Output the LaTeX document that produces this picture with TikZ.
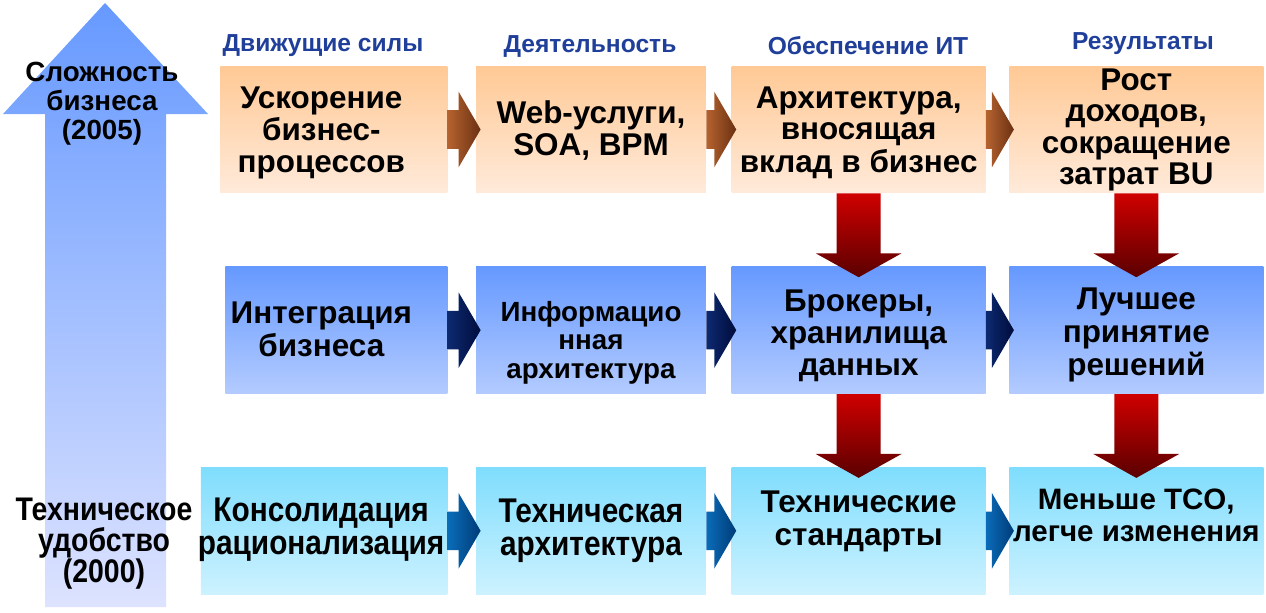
\documentclass[tikz,border=0pt]{standalone}
\usepackage{fontspec}
\setmainfont{Liberation Sans}
\newfontfamily\narrowfont[FakeStretch=0.87]{Liberation Sans}
\usetikzlibrary{positioning,calc}

\definecolor{headblue}{HTML}{1F3F9A}
\definecolor{orangetop}{HTML}{FFC995}
\definecolor{orangebot}{HTML}{FFEADA}
\definecolor{bluetop}{HTML}{6699FF}
\definecolor{bluebot}{HTML}{B3CBFF}
\definecolor{cyantop}{HTML}{7FDDFD}
\definecolor{cyanbot}{HTML}{CDF2FF}
\definecolor{liftbot}{HTML}{DDE3FF}
\definecolor{redtop}{HTML}{D00000}
\definecolor{redbot}{HTML}{5A0000}
\definecolor{browntop}{HTML}{B5632F}
\definecolor{brownbot}{HTML}{6B3012}
\definecolor{navytop}{HTML}{0D2A70}
\definecolor{navybot}{HTML}{000C3C}
\definecolor{steeltop}{HTML}{0A6CB8}
\definecolor{steelbot}{HTML}{003B78}

% lines of a box, moved right by #1 and up by #2
\newcommand{\boxtext}[3]{\raisebox{#2}[\height][\depth]{\hspace*{#1}\begin{tabular}{@{}c@{}}#3\end{tabular}\hspace*{-#1}}}

% block arrow from one box to the next one on the right
\newcommand{\stepright}[3]{%
  \shade[#3] let \p1=(#1.east), \p2=(#2.west), \p3=($(\p1)!0.5!(\p2)$) in
    (\x1,\y3+11pt) -- (\x2-9.7pt,\y3+11pt) -- (\x2-9.7pt,\y3+21.5pt) -- (\x2+2.8pt,\y3)
    -- (\x2-9.7pt,\y3-21.5pt) -- (\x2-9.7pt,\y3-11pt) -- (\x1,\y3-11pt) -- cycle;}

% block arrow from one box down to the box below
\newcommand{\stepdown}[3]{%
  \shade[#3] let \p1=(#1.south), \p2=(#2.north) in
    (\x1-12.5pt,\y1) -- (\x1-12.5pt,\y2+7.4pt) -- (\x1-24.4pt,\y2+7.4pt) -- (\x1,\y2-6.2pt)
    -- (\x1+24.4pt,\y2+7.4pt) -- (\x1+12.5pt,\y2+7.4pt) -- (\x1+12.5pt,\y1) -- cycle;}

\begin{document}
\begin{tikzpicture}[x=0.02cm, y=-0.02cm, node distance=1.46cm and 0.5cm]
    \tikzstyle{stage} = [rectangle, inner sep=0pt, minimum height=2.54cm, font=\fontsize{17.9}{17.9}\selectfont\bfseries]
    \tikzstyle{drive} = [stage, top color=orangetop, bottom color=orangebot]
    \tikzstyle{integ} = [stage, top color=bluetop, bottom color=bluebot, font=\fontsize{17.9}{18.4}\selectfont\bfseries]
    \tikzstyle{tech} = [stage, top color=cyantop, bottom color=cyanbot]
    \tikzstyle{narrow} = [font=\fontsize{19.5}{18.6}\narrowfont\bfseries]
    \tikzstyle{head} = [font=\fontsize{14}{14}\selectfont\bfseries, text=headblue]
    \tikzstyle{warm} = [left color=browntop, right color=brownbot]
    \tikzstyle{navy} = [left color=navytop, right color=navybot]
    \tikzstyle{steel} = [left color=steeltop, right color=steelbot]
    \tikzstyle{drop} = [top color=redtop, bottom color=redbot]

    \useasboundingbox (0,0) rectangle (1266,612);

    % growth arrow on the left
    \shade[top color=bluetop, bottom color=liftbot] (105,3) -- (208,114) -- (166,114) -- (166,607)
        -- (45,607) -- (45,114) -- (3,114) -- cycle;
    \node (complex) [align=center, font=\fontsize{15.8}{16.4}\selectfont\bfseries] at (102,104) {Сложность\\бизнеса\\(2005)};
    \node (simple) [align=center, font=\fontsize{18.6}{17.6}\narrowfont\bfseries] at (104,544) {Техническое\\удобство\\(2000)};

    % column headers
    \node (h1) [head] at (323,46) {Движущие силы};
    \node (h2) [head] at (590,46) {Деятельность};
    \node (h3) [head] at (868,46) {Обеспечение ИТ};
    \node (h4) [head] at (1143,44) {Результаты};

    % boxes
    \node (a2) [drive, minimum width=4.6cm] at (591,129.5) {\boxtext{0pt}{-0.07cm}{Web-услуги,\\SOA, BPM}};
    \node (a1) [drive, minimum width=4.54cm, left=0.56cm of a2] {\boxtext{-0.25cm}{-0.09cm}{Ускорение\\бизнес-\\процессов}};
    \node (a3) [drive, minimum width=5.08cm, right=of a2] {\boxtext{0pt}{-0.09cm}{Архитектура,\\вносящая\\вклад в бизнес}};
    \node (a4) [drive, minimum width=5.08cm, right=0.46cm of a3] {\boxtext{0pt}{-0.03cm}{Рост\\доходов,\\сокращение\\затрат BU}};

    \node (b2) [integ, minimum width=4.6cm, below=of a2, font=\fontsize{15.8}{16.4}\selectfont\bfseries] {\boxtext{0pt}{-0.28cm}{Информацио\\нная\\архитектура}};
    \node (b1) [integ, minimum width=4.44cm, left=0.56cm of b2] {\boxtext{-0.3cm}{-0.07cm}{Интеграция\\бизнеса}};
    \node (b3) [integ, minimum width=5.08cm, right=of b2] {\boxtext{0pt}{-0.14cm}{Брокеры,\\хранилища\\данных}};
    \node (b4) [integ, minimum width=5.08cm, right=0.46cm of b3] {\boxtext{0pt}{-0.12cm}{Лучшее\\принятие\\решений}};

    \node (c2) [tech, narrow, minimum width=4.6cm, below=of b2] {\boxtext{0pt}{-0.03cm}{Техническая\\архитектура}};
    \node (c1) [tech, narrow, minimum width=4.92cm, left=0.56cm of c2] {\boxtext{-0.06cm}{0pt}{Консолидация\\рационализация}};
    \node (c3) [tech, minimum width=5.08cm, right=of c2, font=\fontsize{17.9}{18.7}\selectfont\bfseries] {\boxtext{0pt}{0.17cm}{Технические\\стандарты}};
    \node (c4) [tech, minimum width=5.08cm, right=0.46cm of c3, font=\fontsize{16.8}{18}\selectfont\bfseries] {\boxtext{0pt}{0.23cm}{Меньше TCO,\\легче изменения}};

    % arrows
    \stepright{a1}{a2}{warm}
    \stepright{a2}{a3}{warm}
    \stepright{a3}{a4}{warm}
    \stepright{b1}{b2}{navy}
    \stepright{b2}{b3}{navy}
    \stepright{b3}{b4}{navy}
    \stepright{c1}{c2}{steel}
    \stepright{c2}{c3}{steel}
    \stepright{c3}{c4}{steel}
    \stepdown{a3}{b3}{drop}
    \stepdown{b3}{c3}{drop}
    \stepdown{a4}{b4}{drop}
    \stepdown{b4}{c4}{drop}
\end{tikzpicture}
\end{document}
